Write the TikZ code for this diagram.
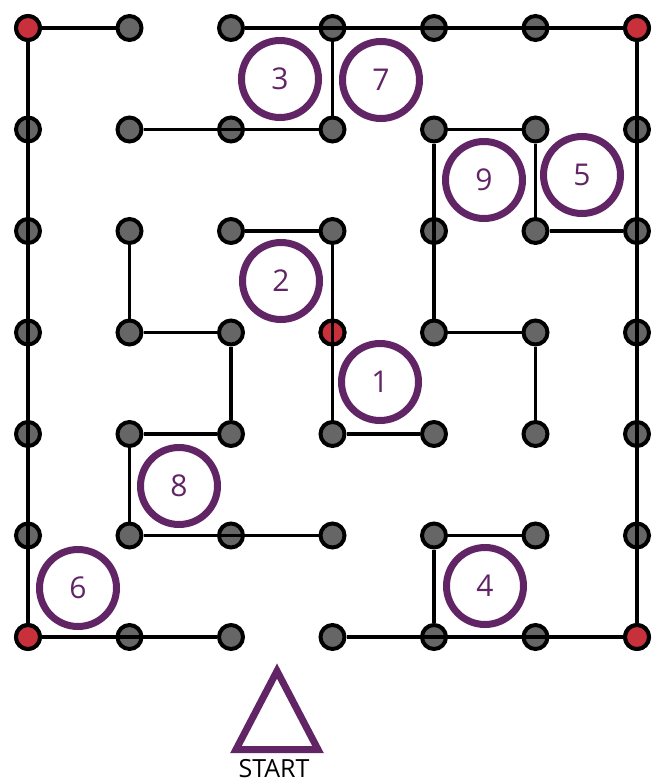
\documentclass[tikz,border=0pt]{standalone}
\usepackage{fontspec}
\setmainfont{Open Sans}
\definecolor{dotgray}{HTML}{666666}
\definecolor{dotred}{HTML}{C8303C}
\definecolor{ringpurple}{HTML}{612566}
\tikzset{
  dot/.style={circle, draw=black, fill=dotgray, line width=4pt, minimum size=24pt, inner sep=0pt, outer sep=2pt},
  reddot/.style={dot, fill=dotred},
  ring/.style={circle, draw=ringpurple, line width=7pt, minimum size=77pt, inner sep=0pt, text=ringpurple, font=\fontsize{30}{30}\selectfont},
  edge/.style={draw=black, line width=3.5pt},
  tri/.style={draw=ringpurple, line width=7pt, line join=miter}
}
\begin{document}
\begin{tikzpicture}[x=1pt, y=-1pt]
\useasboundingbox[fill=white] (0,0) rectangle (662,784);
% dots
\foreach \i in {0,...,6} {
  \foreach \j in {0,...,6} {
    \node[dot] (d\i\j) at ({28+101.5*\i},{28+101.5*\j}) {};
  }
}
\node[reddot] (d00) at (d00) {};
\node[reddot] (d60) at (d60) {};
\node[reddot] (d06) at (d06) {};
\node[reddot] (d66) at (d66) {};
\node[reddot] (d33) at (d33) {};
% walls
\draw[edge] (d00) -- (d10);
\draw[edge] (d20) -- (d60);
\draw[edge] (d00) -- (d06);
\draw[edge] (d60) -- (d66);
\draw[edge] (d06) -- (d26);
\draw[edge] (d36) -- (d66);
\draw[edge] (d30) -- (d31);
\draw[edge] (d11) -- (d31);
\draw[edge] (d51) -- (d41) -- (d43) -- (d53) -- (d54);
\draw[edge] (d51) -- (d52) -- (d62);
\draw[edge] (d22) -- (d32) -- (d34) -- (d44);
\draw[edge] (d12) -- (d13) -- (d23) -- (d24) -- (d14) -- (d15) -- (d35);
\draw[edge] (d55) -- (d45) -- (d46);
% numbered rings
\node[ring] (n3) at (280,79) {3};
\node[ring] (n7) at (381,80) {7};
\node[ring] (n9) at (484,180) {9};
\node[ring] (n5) at (582,175) {5};
\node[ring] (n2) at (281,281) {2};
\node[ring] (n1) at (380,382) {1};
\node[ring] (n8) at (179,486) {8};
\node[ring] (n6) at (78,588) {6};
\node[ring] (n4) at (485,586) {4};
% start marker
\draw[tri] (277,671) -- (236,749.5) -- (318,749.5) -- cycle;
\node[font=\fontsize{25}{25}\selectfont, text=black, inner sep=0pt, anchor=base] (start) at (274,777) {START};
\end{tikzpicture}
\end{document}
